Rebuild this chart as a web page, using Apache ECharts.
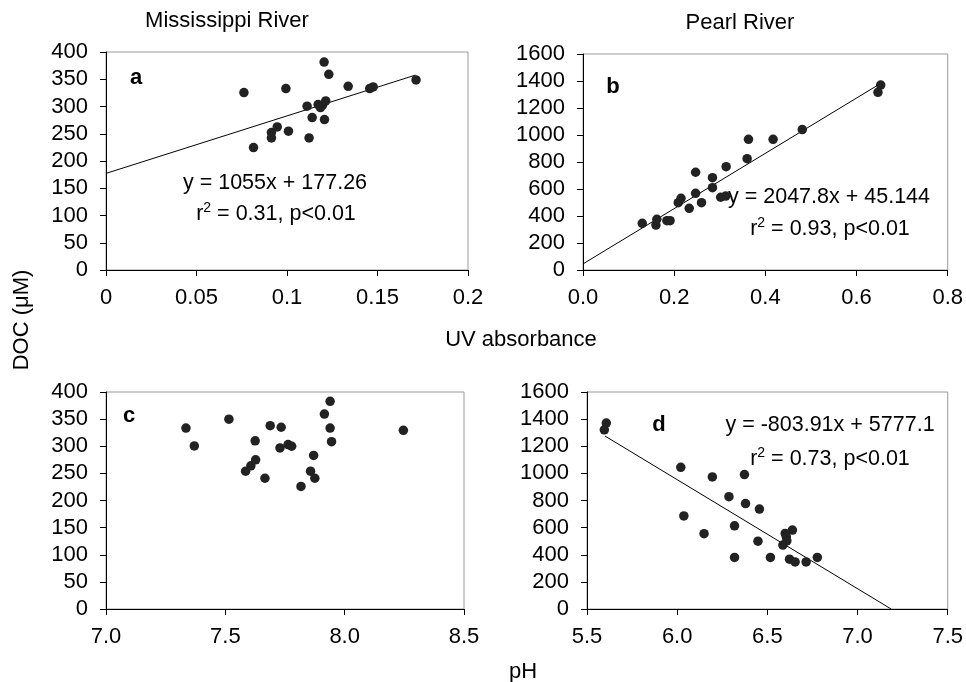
<!DOCTYPE html>
<html>
<head>
<meta charset="utf-8">
<script src="https://cdn.jsdelivr.net/npm/echarts@6/dist/echarts.min.js"></script>
<style>html,body{margin:0;padding:0;background:#fff}#c{width:966px;height:682px}</style>
</head>
<body>
<div id="c"></div>
<script>
// Panel a: Mississippi River, UV absorbance vs DOC
const aX = [0.0762,0.0815,0.0914,0.0914,0.0946,0.0994,0.1008,0.1111,0.1139,0.1122,0.1172,0.1196,0.1214,0.1207,0.1205,0.1231,0.1338,0.1457,0.1476,0.1713,0.1185];
const aY = [325.5,224.7,252.2,242.4,262.6,332.8,254.7,300.6,279.7,242.4,303.6,302.3,310.2,276.0,381.6,359.0,337.0,332.8,335.9,348.7,298.0];
// Panel b: Pearl River, UV absorbance vs DOC
const bX = [0.130,0.160,0.162,0.184,0.191,0.209,0.215,0.233,0.247,0.247,0.260,0.284,0.284,0.302,0.313,0.314,0.360,0.363,0.417,0.481,0.647,0.653];
const bY = [346,333,376,365,365,499,531,457,724,568,499,684,610,539,548,765,825,968,968,1040,1316,1370];
// Panel c: Mississippi River, pH vs DOC
const cX = [7.335,7.370,7.515,7.585,7.607,7.627,7.625,7.666,7.688,7.729,7.734,7.763,7.778,7.817,7.857,7.870,7.875,7.915,7.939,7.939,7.945,8.246];
const cY = [333.6,300.5,350,254,264,275,310,241,338,297,335,303,300,226,254,283,241,359.4,382.8,333.6,308.4,329.3];
// Panel d: Pearl River, pH vs DOC
const dX = [5.596,5.607,6.020,6.037,6.149,6.195,6.287,6.318,6.318,6.373,6.379,6.448,6.456,6.517,6.586,6.599,6.605,6.608,6.639,6.623,6.654,6.715,6.777];
const dY = [1321,1371,1045,686,555,974,828,613,380,991,777,500,737,380,471,557,533,503,582,367,347,347,380];
// Regression lines: [slope, intercept], x-range
const aFit = [1055, 177.26], aFitX = [0, 0.171];
const bFit = [2047.8, 45.144], bFitX = [0, 0.655];
const dFit = [-803.91, 5777.1], dFitX = [5.6, 7.1863];
// Axis ticks [min, max, interval]
const aTicksX = [0, 0.2, 0.05], bTicksX = [0, 0.8, 0.2], cTicksX = [7.0, 8.5, 0.5], dTicksX = [5.5, 7.5, 0.5];
const aTicksY = [0, 400, 50], bTicksY = [0, 1600, 200], cTicksY = [0, 400, 50], dTicksY = [0, 1600, 200];
// Texts
const titles = ['Mississippi River', 'Pearl River'];
const panelLetters = ['a', 'b', 'c', 'd'];
const eqA = ['y = 1055x + 177.26', '0.31, p<0.01'];
const eqB = ['y = 2047.8x + 45.144', '0.93, p<0.01'];
const eqD = ['y = -803.91x + 5777.1', '0.73, p<0.01'];

const FONT = 'Liberation Sans, Arial, sans-serif';
const FS = 22;
const EFS = 21.5;
const grids = [
  {left: 106, top: 52, width: 362, height: 218},
  {left: 583, top: 54, width: 367, height: 216},
  {left: 106, top: 392, width: 358, height: 217},
  {left: 587, top: 392, width: 363, height: 217}
];
function fmtDefault(v){ return String(+v.toFixed(4)); }
function fmt1(v){ return v.toFixed(1); }
function fmtInt(v){ return String(Math.round(v)); }
function xAxis(i, t, f){
  return {type:'value', gridIndex:i, min:t[0], max:t[1], interval:t[2],
    axisLine:{show:true, onZero:false, lineStyle:{color:'#000', width:1}},
    axisTick:{show:true, inside:false, length:6, lineStyle:{color:'#000'}},
    splitLine:{show:false},
    axisLabel:{color:'#000', fontSize:FS, fontFamily:FONT, margin:17, formatter:f}};
}
function yAxis(i, t){
  return {type:'value', gridIndex:i, min:t[0], max:t[1], interval:t[2],
    axisLine:{show:true, onZero:false, lineStyle:{color:'#000', width:1}},
    axisTick:{show:true, inside:false, length:6, lineStyle:{color:'#000'}},
    splitLine:{show:false},
    axisLabel:{color:'#000', fontSize:FS, fontFamily:FONT, margin:18, formatter:fmtInt}};
}
function pts(xs, ys){ return xs.map((x,i)=>[x, ys[i]]); }
function fit(f, r){ return r.map(x=>[x, f[0]*x + f[1]]); }
function scatter(i, xs, ys){
  return {type:'scatter', xAxisIndex:i, yAxisIndex:i, data:pts(xs, ys), symbolSize:9.5,
    itemStyle:{color:'#222', opacity:1}, z:3, silent:true};
}
function line(i, f, r){
  return {type:'line', xAxisIndex:i, yAxisIndex:i, data:fit(f, r), showSymbol:false, symbol:'none',
    lineStyle:{color:'#000', width:1}, z:2, silent:true};
}
function txt(x, y, text, opts){
  return {type:'text', x:x, y:y, silent:true,
    style:Object.assign({text:text, fill:'#000', font: FS + 'px ' + FONT, textVerticalAlign:'middle', textAlign:'center'}, opts||{})};
}
function r2(x, y, rest){
  return {type:'text', x:x, y:y, silent:true,
    style:{text:'{n|r}{s|2}{n| = ' + rest + '}', fill:'#000', textAlign:'center', textVerticalAlign:'middle',
      rich:{n:{fontSize:EFS, fontFamily:FONT, color:'#000', lineHeight:26},
            s:{fontSize:14, fontFamily:FONT, color:'#000', verticalAlign:'top', lineHeight:26, padding:[0,0,10,0]}}}};
}
const letterStyle = {font:'bold ' + FS + 'px ' + FONT};
const eqStyle = {font: EFS + 'px ' + FONT};

const option = {
  animation:false,
  backgroundColor:'#fff',
  grid: grids.map(g=>Object.assign({show:true, borderColor:'#9a9a9a', borderWidth:1, backgroundColor:'transparent'}, g)),
  xAxis:[xAxis(0, aTicksX, fmtDefault), xAxis(1, bTicksX, fmt1), xAxis(2, cTicksX, fmt1), xAxis(3, dTicksX, fmt1)],
  yAxis:[yAxis(0, aTicksY), yAxis(1, bTicksY), yAxis(2, cTicksY), yAxis(3, dTicksY)],
  series:[
    scatter(0, aX, aY), line(0, aFit, aFitX),
    scatter(1, bX, bY), line(1, bFit, bFitX),
    scatter(2, cX, cY),
    scatter(3, dX, dY), line(3, dFit, dFitX)
  ],
  graphic:[
    txt(227, 21, titles[0]),
    txt(740, 23, titles[1]),
    {type:'text', x:22, y:320, rotation:Math.PI/2, silent:true,
      style:{text:'DOC (\u03bcM)', fill:'#000', font: FS + 'px ' + FONT, textAlign:'center', textVerticalAlign:'middle'}},
    txt(521, 340, 'UV absorbance'),
    txt(523, 672, 'pH'),
    txt(136, 78, panelLetters[0], letterStyle),
    txt(613, 87, panelLetters[1], letterStyle),
    txt(129, 416, panelLetters[2], letterStyle),
    txt(659, 425, panelLetters[3], letterStyle),
    txt(275, 183, eqA[0], eqStyle),
    r2(276, 214, eqA[1]),
    txt(829, 197, eqB[0], eqStyle),
    r2(830, 229, eqB[1]),
    txt(830, 425, eqD[0], eqStyle),
    r2(830, 459, eqD[1])
  ]
};
const chart = echarts.init(document.getElementById('c'), null, {renderer:'canvas'});
chart.setOption(option);
</script>
</body>
</html>
